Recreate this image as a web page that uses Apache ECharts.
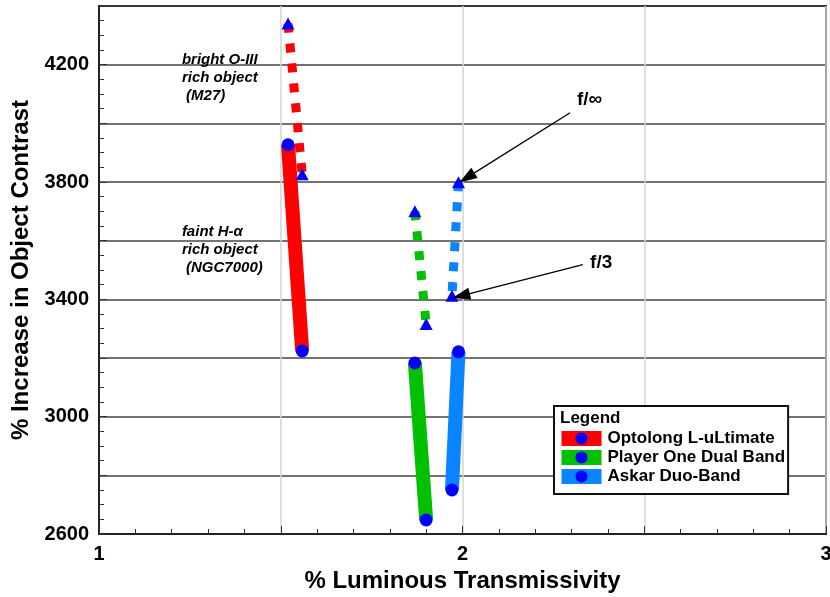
<!DOCTYPE html>
<html>
<head>
<meta charset="utf-8">
<script src="https://cdn.jsdelivr.net/npm/echarts@6/dist/echarts.min.js"></script>
<style>
html,body{margin:0;padding:0;background:#fff;}
#chart{width:830px;height:597px;}
</style>
</head>
<body>
<div id="chart"></div>
<script>
// ---- data ----
const filterNames = ['Optolong L-uLtimate', 'Player One Dual Band', 'Askar Duo-Band'];
// % luminous transmissivity at the two ends of each line (f/∞ end, f/3 end)
const transFInf = [1.52, 1.869, 1.989];
const transF3   = [1.559, 1.900, 1.971];
// % increase in object contrast, bright O-III rich object (M27) – dashed
const m27FInf = [4340, 3700, 3799];
const m27F3   = [3826, 3316, 3412];
// % increase in object contrast, faint H-alpha rich object (NGC7000) – solid
const ngcFInf = [3927, 3183, 3221];
const ngcF3   = [3224, 2648, 2750];
// axis
const xMin = 1, xMax = 3, xStep = 0.5;
const yMin = 2600, yMax = 4400, yStep = 200, yLabelStep = 400;
// annotations (data coordinates)
const noteText = ['bright O-III\nrich object\n (M27)', 'faint H-\u03b1\nrich object\n (NGC7000)'];
const noteX = [1.228, 1.228];
const noteY = [4156, 3569];
const arrowText = ['f/\u221e', 'f/3'];
const arrowTextX = [2.315, 2.351];
const arrowTextY = [4081, 3525];
const arrowFrom = [[2.296, 4036], [2.331, 3518]];
const arrowTo = [[2.012, 3815], [1.996, 3412]];

const lineColors = ['#ff0000', '#00c000', '#0a84ff'];
const markerColor = '#0000ff';

const series = [];
filterNames.forEach((name, i) => {
  series.push({
    name: name,
    type: 'line',
    data: [[transFInf[i], ngcFInf[i]], [transF3[i], ngcF3[i]]],
    symbol: 'circle',
    symbolSize: 13,
    itemStyle: { color: markerColor },
    lineStyle: { color: lineColors[i], width: 14, cap: 'butt' },
    z: 3
  });
});
filterNames.forEach((name, i) => {
  series.push({
    name: name + ' (M27)',
    type: 'line',
    data: [[transFInf[i], m27FInf[i]], [transF3[i], m27F3[i]]],
    symbol: 'triangle',
    symbolSize: [13, 12],
    itemStyle: { color: markerColor },
    lineStyle: { color: lineColors[i], width: 9, type: [9, 11], cap: 'butt' },
    z: 3
  });
});
const font = 'Liberation Sans, Arial, sans-serif';
// text notes + arrows
series.push({
  name: 'notes',
  type: 'scatter',
  symbolSize: 0,
  silent: true,
  z: 5,
  data: noteText.map((t, i) => ({
    value: [noteX[i], noteY[i]],
    label: {
      show: true, position: 'right', distance: 0, formatter: t,
      fontFamily: font, fontSize: 15,
      fontStyle: 'italic', fontWeight: 'bold', color: '#000', opacity: 1, lineHeight: 18, align: 'left'
    }
  })).concat(arrowText.map((t, i) => ({
    value: [arrowTextX[i], arrowTextY[i]],
    label: {
      show: true, position: 'right', distance: 0, formatter: t,
      fontFamily: font, fontSize: 19,
      fontWeight: 'bold', color: '#000', opacity: 1, align: 'left'
    }
  }))),
  markLine: {
    silent: true,
    animation: false,
    symbol: ['none', 'triangle'],
    symbolSize: [12, 18],
    lineStyle: { color: '#000', width: 1.3, type: 'solid', opacity: 1 },
    itemStyle: { color: '#000' },
    label: { show: false },
    data: arrowFrom.map((f, i) => [{ coord: f }, { coord: arrowTo[i] }])
  }
});

const chart = echarts.init(document.getElementById('chart'), null, { renderer: 'canvas' });
chart.setOption({
  animation: false,
  backgroundColor: '#fff',
  grid: { left: 99, right: 4, top: 6, bottom: 63, show: true, borderColor: '#222', borderWidth: 2, backgroundColor: 'transparent', containLabel: false, outerBoundsMode: 'none' },
  xAxis: {
    type: 'value', min: xMin, max: xMax, interval: xStep,
    name: '% Luminous Transmissivity', nameLocation: 'middle', nameGap: 33,
    nameTextStyle: { fontFamily: font, fontSize: 24, fontWeight: 'bold', color: '#000' },
    axisLine: { show: true, lineStyle: { color: '#222', width: 2 } },
    axisTick: { show: true, inside: true, length: 8, lineStyle: { color: '#333', width: 1 } },
    minorTick: { show: true, splitNumber: 5, length: 5, lineStyle: { color: '#333', width: 1 } },
    axisLabel: {
      fontFamily: font, fontSize: 20, fontWeight: 'bold', color: '#000', margin: 10,
      formatter: v => (Math.abs(v - Math.round(v)) < 1e-9 ? String(Math.round(v)) : '')
    },
    splitLine: { show: true, lineStyle: { color: '#d4d4d4', width: 1.5 } }
  },
  yAxis: {
    type: 'value', min: yMin, max: yMax, interval: yStep,
    name: '% Increase in Object Contrast', nameLocation: 'middle', nameGap: 50,
    nameTextStyle: { fontFamily: font, fontSize: 24, fontWeight: 'bold', color: '#000' },
    axisLine: { show: true, lineStyle: { color: '#222', width: 2 } },
    axisTick: { show: true, inside: true, length: 8, lineStyle: { color: '#333', width: 1 } },
    minorTick: { show: true, splitNumber: 4, length: 5, lineStyle: { color: '#333', width: 1 } },
    axisLabel: {
      fontFamily: font, fontSize: 20, fontWeight: 'bold', color: '#000', margin: 10,
      formatter: v => ((v - yMin) % yLabelStep === 0 ? String(v) : '')
    },
    splitLine: { show: true, lineStyle: { color: '#444', width: 1.5 } }
  },
  legend: {
    data: filterNames,
    orient: 'vertical',
    left: 554, top: 406,
    padding: [24, 3, 9, 0],
    itemWidth: 40, itemHeight: 15, itemGap: 2,
    backgroundColor: '#fff',
    borderColor: '#111', borderWidth: 2,
    selectedMode: false,
    lineStyle: { width: 15, cap: 'butt' },
    textStyle: { fontFamily: font, fontSize: 17, fontWeight: 'bold', color: '#000', padding: [0, 0, 0, 1] }
  },
  graphic: [{
    type: 'text', left: 560, top: 410, z: 100,
    style: { text: 'Legend', font: 'bold 17px Liberation Sans, Arial, sans-serif', fill: '#000' }
  }],
  series: series
});
</script>
</body>
</html>
